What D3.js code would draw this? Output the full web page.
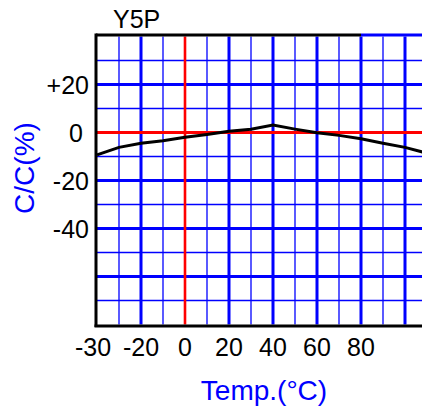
<!DOCTYPE html>
<html>
<head>
<meta charset="utf-8">
<script src="https://cdn.jsdelivr.net/npm/d3@7"></script>
<style>
  body { margin: 0; background: #fff; }
  svg { display: block; font-family: Arial, "Liberation Sans", sans-serif; }
</style>
</head>
<body>
<svg width="422" height="415"></svg>
<script>
// temperature (°C) vs capacitance change (%)
const temps  = [-40, -30, -20, -10, 0, 10, 20, 30, 40, 50, 60, 70, 80, 90, 100, 110];
const change = [-9.3, -6.2, -4.5, -3.4, -2.0, -0.8, 0.5, 1.4, 3.1, 1.4, -0.1, -1.2, -2.6, -4.5, -6.2, -8.6];

const xTickLabels = ["-30", "-20", "0", "20", "40", "60", "80"];
const xTickValues = [-30, -20, 0, 20, 40, 60, 80];
const yTickLabels = ["+20", "0", "-20", "-40"];
const yTickValues = [20, 0, -20, -40];

const svg = d3.select("svg");

const x = d3.scaleLinear().domain([-40, 110]).range([97, 427]);
const y = d3.scaleLinear().domain([-80, 40]).range([324.5, 36.5]);

const plotL = x(-40), plotR = 430, plotT = y(40), plotB = y(-80);

const vLines = d3.range(-30, 111, 10);
const hLines = d3.range(-70, 40, 10);

const grid = svg.append("g");

// minor grid lines (odd tens)
grid.selectAll(".vminor")
  .data(vLines.filter(d => d % 20 !== 0))
  .enter().append("line")
  .attr("x1", d => x(d)).attr("x2", d => x(d))
  .attr("y1", plotT).attr("y2", plotB)
  .attr("stroke", "#0000ff").attr("stroke-width", 1.3);

grid.selectAll(".hminor")
  .data(hLines.filter(d => d % 20 !== 0))
  .enter().append("line")
  .attr("x1", plotL).attr("x2", plotR)
  .attr("y1", d => y(d)).attr("y2", d => y(d))
  .attr("stroke", "#0000ff").attr("stroke-width", 1.3);

// major grid lines
grid.selectAll(".vmajor")
  .data(vLines.filter(d => d % 20 === 0 && d !== 0))
  .enter().append("line")
  .attr("x1", d => x(d)).attr("x2", d => x(d))
  .attr("y1", plotT).attr("y2", plotB)
  .attr("stroke", "#0000ff").attr("stroke-width", 3);

grid.selectAll(".hmajor")
  .data(hLines.filter(d => d % 20 === 0 && d !== 0))
  .enter().append("line")
  .attr("x1", plotL).attr("x2", plotR)
  .attr("y1", d => y(d)).attr("y2", d => y(d))
  .attr("stroke", "#0000ff").attr("stroke-width", 3);

// zero lines
grid.append("line")
  .attr("x1", x(0)).attr("x2", x(0)).attr("y1", plotT).attr("y2", plotB)
  .attr("stroke", "#ff0000").attr("stroke-width", 2.6);
grid.append("line")
  .attr("x1", plotL).attr("x2", plotR).attr("y1", y(0)).attr("y2", y(0))
  .attr("stroke", "#ff0000").attr("stroke-width", 3);

// frame
const frame = svg.append("g").attr("stroke-width", 3);
frame.append("line").attr("x1", plotL - 1).attr("x2", x(80)).attr("y1", plotT - 1.5).attr("y2", plotT - 1.5).attr("stroke", "#000");
frame.append("line").attr("x1", x(80)).attr("x2", plotR).attr("y1", plotT - 1.5).attr("y2", plotT - 1.5).attr("stroke", "#0000ff");
frame.append("line").attr("x1", plotL - 1).attr("x2", plotL - 1).attr("y1", plotT - 3).attr("y2", plotB + 2.5).attr("stroke", "#000");
frame.append("line").attr("x1", plotL - 2.5).attr("x2", plotR).attr("y1", plotB + 1.5).attr("y2", plotB + 1.5).attr("stroke", "#000");

// curve
svg.append("path")
  .datum(temps.map((t, i) => [t, change[i]]))
  .attr("fill", "none")
  .attr("stroke", "#000")
  .attr("stroke-width", 3)
  .attr("d", d3.line().x(d => x(d[0])).y(d => y(d[1])));

// tick labels
svg.append("g").selectAll("text")
  .data(xTickValues)
  .enter().append("text")
  .attr("x", d => d === -30 ? plotL - 4 : x(d))
  .attr("y", 356)
  .attr("text-anchor", "middle")
  .attr("font-size", 25)
  .attr("fill", "#000")
  .text((d, i) => xTickLabels[i]);

svg.append("g").selectAll("text")
  .data(yTickValues)
  .enter().append("text")
  .attr("x", d => d === 0 ? 83 : 89)
  .attr("y", d => y(d) + 9)
  .attr("text-anchor", "end")
  .attr("font-size", 25)
  .attr("fill", "#000")
  .text((d, i) => yTickLabels[i]);

// titles
svg.append("text")
  .attr("x", 113).attr("y", 28)
  .attr("font-size", 25)
  .attr("fill", "#000")
  .text("Y5P");

svg.append("text")
  .attr("transform", "translate(34,168) rotate(-90)")
  .attr("text-anchor", "middle")
  .attr("font-size", 28)
  .attr("fill", "#0000ff")
  .text("C/C(%)");

svg.append("text")
  .attr("x", 264).attr("y", 400)
  .attr("text-anchor", "middle")
  .attr("font-size", 28)
  .attr("fill", "#0000ff")
  .text("Temp.(°C)");
</script>
</body>
</html>
